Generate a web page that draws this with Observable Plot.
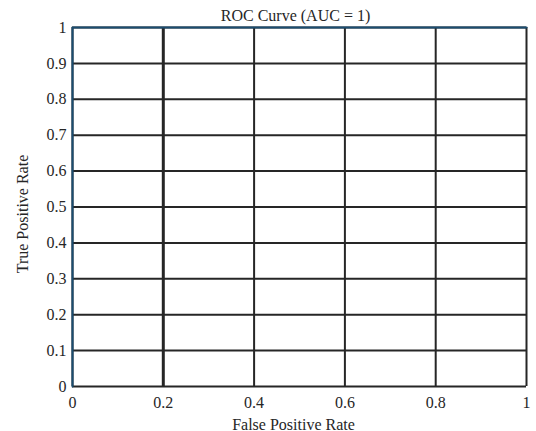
<!DOCTYPE html>
<html>
<head>
<meta charset="utf-8">
<script src="https://cdn.jsdelivr.net/npm/d3@7"></script>
<script src="https://cdn.jsdelivr.net/npm/@observablehq/plot@0.6"></script>
<style>
  html, body { margin: 0; padding: 0; background: #fff; }
  #chart svg { display: block; }
  #chart svg text { font-family: 'Liberation Serif', 'Times New Roman', serif; font-size: 16px; }
</style>
</head>
<body>
<div id="chart"></div>
<script>
const fpr = [0, 0, 1];
const tpr = [0, 1, 1];
const xTicks = [0, 0.2, 0.4, 0.6, 0.8, 1];
const yTicks = [0, 0.1, 0.2, 0.3, 0.4, 0.5, 0.6, 0.7, 0.8, 0.9, 1];
const titleText = "ROC Curve (AUC = 1)";
const xLabel = "False Positive Rate";
const yLabel = "True Positive Rate";

const roc = fpr.map((f, i) => ({fpr: f, tpr: tpr[i]}));
const fmt = d => String(+d.toFixed(1));
const FS = 16;

const chart = Plot.plot({
  width: 536,
  height: 431,
  marginLeft: 72,
  marginRight: 10,
  marginTop: 27,
  marginBottom: 45,
  style: `font: ${FS}px 'Liberation Serif', 'Times New Roman', serif; color: #262626; background: #fff;`,
  x: {domain: [0, 1], ticks: xTicks, tickFormat: fmt, label: null},
  y: {domain: [0, 1], ticks: yTicks, tickFormat: fmt, label: null},
  marks: [
    Plot.ruleY(yTicks, {stroke: "#262626", strokeWidth: 2}),
    Plot.ruleX(xTicks.filter(d => d !== 0.2), {stroke: "#262626", strokeWidth: 2}),
    Plot.ruleX(xTicks.filter(d => d === 0.2), {stroke: "#262626", strokeWidth: 3}),
    Plot.line(roc, {x: "fpr", y: "tpr", stroke: "#1b4d70", strokeWidth: 2}),
    Plot.axisX({ticks: xTicks, tickFormat: fmt, tickSize: 0, tickPadding: 10, label: null, fontSize: FS, fill: "#262626"}),
    Plot.axisY({ticks: yTicks, tickFormat: fmt, tickSize: 0, tickPadding: 6, label: null, fontSize: FS, fill: "#262626"}),
    Plot.text([titleText], {frameAnchor: "top", lineAnchor: "bottom", dx: -4, dy: -7, fontSize: FS, fill: "#262626"}),
    Plot.text([xLabel], {frameAnchor: "bottom", lineAnchor: "bottom", dx: -6, dy: 43, fontSize: FS, fill: "#262626"}),
    Plot.text([yLabel], {frameAnchor: "left", textAnchor: "middle", dx: -50, dy: 7, rotate: -90, fontSize: FS, fill: "#262626"})
  ]
});
document.getElementById("chart").appendChild(chart);
</script>
</body>
</html>
